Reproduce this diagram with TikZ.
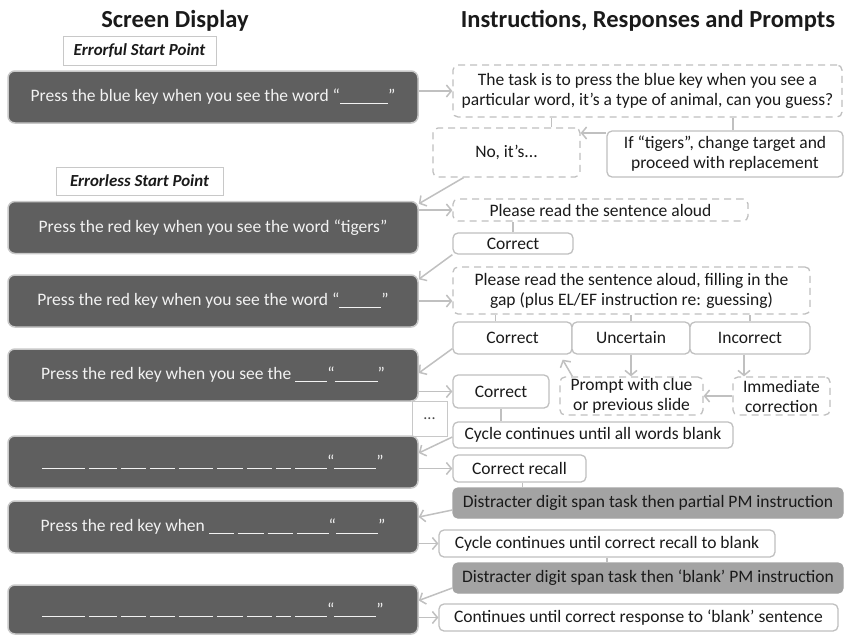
\documentclass[tikz,border=0pt]{standalone}
\usepackage{fontspec}
\setmainfont{Carlito}
\usetikzlibrary{arrows.meta}

\definecolor{scrfill}{HTML}{5F5F5F}
\definecolor{scredge}{HTML}{C8C8C8}
\definecolor{scrtext}{HTML}{F2F2F2}
\definecolor{boxedge}{HTML}{C0C0C0}
\definecolor{distfill}{HTML}{A3A3A3}
\definecolor{txtdark}{HTML}{1A1A1A}

% blank for a missing word, width in px
\newcommand{\wordgap}[1]{\rule[-1.6pt]{#1pt}{0.8pt}}

\tikzset{
  boxsize/.style 2 args={minimum width=#1pt, minimum height=#2pt},
  screen/.style={draw=scredge, line width=1.5pt, fill=scrfill, text=scrtext,
    rounded corners=7pt, boxsize={410}{52}, inner sep=0pt,
    font=\fontsize{17.5}{20}\selectfont},
  resp/.style={draw=boxedge, line width=1.3pt, fill=white, text=txtdark,
    rounded corners=5pt, inner sep=0pt, align=center,
    font=\fontsize{17.5}{20}\selectfont},
  prompt/.style={resp, dash pattern=on 7pt off 5pt},
  distract/.style={resp, fill=distfill, draw=distfill},
  startlabel/.style={draw=scredge, line width=0.8pt, inner sep=0pt, text=txtdark,
    font=\fontsize{16.9}{19}\selectfont\bfseries\itshape},
  heading/.style={anchor=base, text=txtdark, font=\fontsize{24.5}{28}\selectfont\bfseries},
  flow/.style={draw=boxedge, line width=1.5pt, -{Straight Barb[length=5pt,width=12pt]}},
  link/.style={draw=boxedge, line width=1.3pt},
}

\begin{document}
\begin{tikzpicture}[x=1pt, y=-1pt]
  \useasboundingbox[fill=white] (0,0) rectangle (844,635);

  % Headings
  \node[heading] (headscreen) at (175,27) {Screen Display};
  \node[heading] (headinstr) at (648,27) {Instructions, Responses and Prompts};

  % Start points
  \node[startlabel, boxsize={153}{29}] (errorful) at (139.5,50.5) {Errorful Start Point};
  \node[startlabel, boxsize={167}{28}] (errorless) at (139.5,181) {Errorless Start Point};

  % Screen display
  \node[screen] (s1) at (213,97) {Press the blue key when you see the word “\wordgap{48}”};
  \node[screen] (s2) at (213,227.5) {Press the red key when you see the word “tigers”};
  \node[screen] (s3) at (213,301) {Press the red key when you see the word “\wordgap{42}”};
  \node[screen] (s4) at (213,375) {Press the red key when you see the \wordgap{32}“\wordgap{43}”};
  \node[screen] (s5) at (213,462) {\wordgap{43} \wordgap{28} \wordgap{25} \wordgap{25} \wordgap{34} \wordgap{26} \wordgap{25} \wordgap{15} \wordgap{32}“\wordgap{42}”};
  \node[screen] (s6) at (213,527) {Press the red key when \wordgap{25} \wordgap{26} \wordgap{25} \wordgap{32}“\wordgap{42}”};
  \node[screen, boxsize={410}{49}] (s7) at (213,609.5) {\wordgap{43} \wordgap{28} \wordgap{25} \wordgap{25} \wordgap{34} \wordgap{26} \wordgap{25} \wordgap{15} \wordgap{32}“\wordgap{42}”};
  \node[draw=scredge, line width=0.8pt, boxsize={35}{35}, text=txtdark!80,
    font=\fontsize{16}{18}\selectfont] (dots) at (429.5,418.5) {...};

  % Instructions, responses and prompts
  \node[prompt, boxsize={389}{52}] (task) at (647.5,91) {The task is to press the blue key when you see a\\particular word, it’s a type of animal, can you guess?};
  \node[prompt, boxsize={147}{49}] (noits) at (506.5,152.5) {No, it’s...};
  \node[resp, boxsize={236}{46}] (tigers) at (725,154) {If “tigers”, change target and\\proceed with replacement};
  \node[prompt, boxsize={295}{22}] (aloud) at (600.5,210) {Please read the sentence aloud};
  \node[resp, boxsize={120}{21}] (correcta) at (513,243.5) {Correct};
  \node[prompt, boxsize={357}{47}] (fillgap) at (631.5,290.5) {Please read the sentence aloud, filling in the\\gap (plus EL/EF instruction re: guessing)};
  \node[resp, boxsize={119}{32}] (correctb) at (512.5,338) {Correct};
  \node[resp, boxsize={118}{32}] (uncertain) at (631,338) {Uncertain};
  \node[resp, boxsize={120}{32}] (incorrect) at (750,338) {Incorrect};
  \node[resp, boxsize={96}{33}] (correctc) at (501,391.5) {Correct};
  \node[prompt, boxsize={143}{38}] (clue) at (631.5,396) {Prompt with clue\\or previous slide};
  \node[prompt, boxsize={97}{38}] (immediate) at (781.5,396) {Immediate\\correction};
  \node[resp, boxsize={280}{26}] (allblank) at (593,435) {Cycle continues until all words blank};
  \node[resp, boxsize={133}{27}] (recall) at (519.5,468.5) {Correct recall};
  \node[distract, boxsize={390}{30}] (partial) at (648,503) {Distracter digit span task then partial PM instruction};
  \node[resp, boxsize={336}{27}] (toblank) at (607,543.5) {Cycle continues until correct recall to blank};
  \node[distract, boxsize={390}{30}] (blankpm) at (648,578) {Distracter digit span task then ‘blank’ PM instruction};
  \node[resp, boxsize={399}{27}] (response) at (638.5,617.5) {Continues until correct response to ‘blank’ sentence};

  % Connectors
  \draw[flow] (task.west -| s1.east) -- (task.west);
  \draw[link] ([xshift=45pt]noits.north) -- ([xshift=45pt]noits.north |- task.south);
  \draw[link] ([xshift=8pt]tigers.north) -- ([xshift=8pt]tigers.north |- task.south);
  \draw[flow] ([yshift=21pt]tigers.west) -- ([yshift=21pt]tigers.west -| noits.east);
  \draw[flow] ([xshift=-43pt]noits.south) -- ([yshift=-3pt]s2.north east);
  \draw[flow] (aloud.west -| s2.east) -- (aloud.west);
  \draw[link] (correcta.north) -- (correcta.north |- aloud.south);
  \draw[flow] (correcta.south west) -- ([yshift=-5pt]s3.north east);
  \draw[flow] (s3.east) -- (s3.east -| fillgap.west);
  \draw[link] ([xshift=-17pt]correctb.north) -- ([xshift=-17pt]correctb.north |- fillgap.south);
  \draw[link] (uncertain.north) -- (uncertain.north |- fillgap.south);
  \draw[link] (incorrect.north) -- (incorrect.north |- fillgap.south);
  \draw[flow] (uncertain.south) -- (uncertain.south |- clue.north);
  \draw[flow] ([xshift=-6pt]incorrect.south) -- ([xshift=-6pt]incorrect.south |- immediate.north);
  \draw[flow] (immediate.west) -- (clue.west -| clue.east);
  \draw[flow] ([xshift=13pt]clue.north west) -- ([xshift=-10pt,yshift=-5pt]correctb.south east);
  \draw[flow] ([yshift=6pt]correctb.south west) -- ([yshift=2pt]s4.east);
  \draw[flow] (correctc.west -| s4.east) -- (correctc.west);
  \draw[link] (correctc.south) -- (correctc.south |- allblank.north);
  \draw[flow] ([yshift=-2pt]allblank.west) -- ([yshift=9pt]s5.east);
  \draw[flow] (recall.west -| s5.east) -- (recall.west);
  \draw[link] ([xshift=3pt]recall.south) -- ([xshift=3pt]recall.south |- partial.north);
  \draw[flow] ([yshift=-7pt]partial.west) -- ([yshift=10pt]s6.east);
  \draw[flow] (toblank.west -| s6.east) -- (toblank.west);
  \draw[link] (toblank.south) -- (toblank.south |- blankpm.north);
  \draw[flow] ([yshift=-10pt]blankpm.west) -- ([yshift=9pt]s7.east);
  \draw[flow] (response.west -| s7.east) -- (response.west);
\end{tikzpicture}
\end{document}
